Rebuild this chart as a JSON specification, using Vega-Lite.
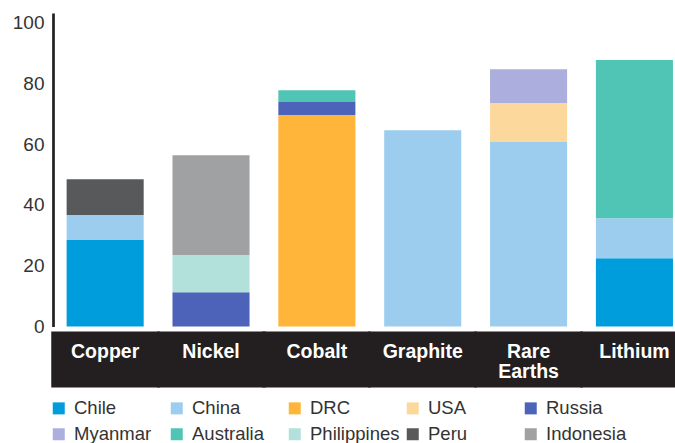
{
  "$schema": "https://vega.github.io/schema/vega-lite/v6.json",
  "autosize": {"type": "none"},
  "padding": {"left": 53, "top": 13, "right": 0, "bottom": 116.5},
  "width": 622,
  "height": 313.5,
  "background": "white",
  "config": {"view": {"stroke": null}, "font": "Liberation Sans"},
  "data": {
    "values": [
      {"mineral": "Copper", "country": "Chile", "share": 28.5},
      {"mineral": "Copper", "country": "China", "share": 8.2},
      {"mineral": "Copper", "country": "Peru", "share": 11.8},
      {"mineral": "Nickel", "country": "Russia", "share": 11.3},
      {"mineral": "Nickel", "country": "Philippines", "share": 12.2},
      {"mineral": "Nickel", "country": "Indonesia", "share": 32.9},
      {"mineral": "Cobalt", "country": "DRC", "share": 69.6},
      {"mineral": "Cobalt", "country": "Russia", "share": 4.3},
      {"mineral": "Cobalt", "country": "Australia", "share": 3.9},
      {"mineral": "Graphite", "country": "China", "share": 64.6},
      {"mineral": "Rare Earths", "country": "China", "share": 60.7},
      {"mineral": "Rare Earths", "country": "USA", "share": 12.9},
      {"mineral": "Rare Earths", "country": "Myanmar", "share": 11.1},
      {"mineral": "Lithium", "country": "Chile", "share": 22.5},
      {"mineral": "Lithium", "country": "China", "share": 13.1},
      {"mineral": "Lithium", "country": "Australia", "share": 52.1}
    ]
  },
  "transform": [
    {"calculate": "indexof(['Chile','China','DRC','USA','Russia','Myanmar','Australia','Philippines','Peru','Indonesia'], datum.country)", "as": "k"}
  ],
  "mark": {"type": "bar", "strokeWidth": 0},
  "encoding": {
    "x": {
      "field": "mineral",
      "type": "nominal",
      "sort": ["Copper", "Nickel", "Cobalt", "Graphite", "Rare Earths", "Lithium"],
      "scale": {"paddingInner": 0.272, "paddingOuter": 0.074, "align": 0.87},
      "axis": {
        "title": null,
        "labelAngle": 0,
        "domain": false,
        "ticks": true,
        "tickBand": "center",
        "tickSize": 56,
        "tickWidth": 108.5,
        "tickColor": "#231f20",
        "tickCap": "butt",
        "offset": 4.5,
        "labelColor": "white",
        "labelFont": "Liberation Sans",
        "labelFontWeight": "bold",
        "labelFontSize": 19.5,
        "labelBaseline": "top",
        "labelPadding": -45,
        "labelLineHeight": 20,
        "labelExpr": "datum.label == 'Rare Earths' ? ['Rare','Earths'] : datum.label"
      }
    },
    "y": {
      "field": "share",
      "type": "quantitative",
      "scale": {"domain": [0, 103.2], "nice": false},
      "axis": {
        "title": null,
        "values": [0, 20, 40, 60, 80, 100],
        "ticks": false,
        "grid": false,
        "domainColor": "#231f20",
        "domainWidth": 2.7,
        "labelFontSize": 19,
        "labelColor": "#333333",
        "labelPadding": 9,
        "labelFont": "Liberation Sans"
      }
    },
    "color": {
      "field": "country",
      "type": "nominal",
      "scale": {
        "domain": ["Chile", "China", "DRC", "USA", "Russia", "Myanmar", "Australia", "Philippines", "Peru", "Indonesia"],
        "range": ["#009ddc", "#9dcdee", "#ffb43a", "#fdd89d", "#4d63b9", "#acaedd", "#51c5b5", "#b2e1db", "#58595b", "#a0a1a3"]
      },
      "legend": {
        "title": null,
        "orient": "none",
        "legendX": -3.5,
        "legendY": 386,
        "direction": "horizontal",
        "columns": 5,
        "gridAlign": "all",
        "symbolType": "square",
        "symbolSize": 144,
        "symbolStrokeWidth": 0,
        "symbolOpacity": 1,
        "labelFontSize": 18.5,
        "labelFont": "Liberation Sans",
        "labelColor": "#333333",
        "labelOffset": 6,
        "columnPadding": 4,
        "rowPadding": 7,
        "labelLimit": 200
      }
    },
    "order": {"field": "k", "type": "quantitative"}
  }
}
